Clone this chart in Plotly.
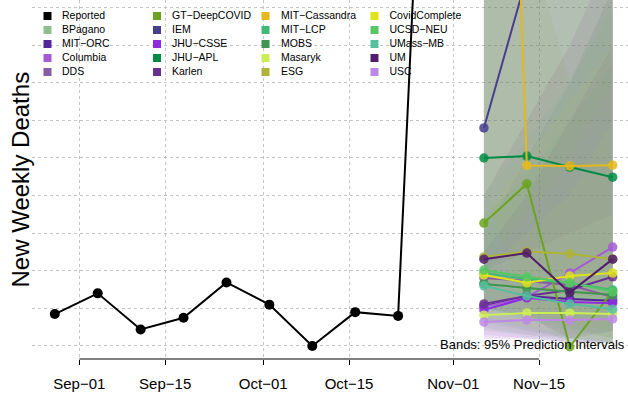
import plotly.graph_objects as go

# ---------------- data ----------------
reported_dates = ["2020-08-28", "2020-09-04", "2020-09-11", "2020-09-18", "2020-09-25",
                  "2020-10-02", "2020-10-09", "2020-10-16", "2020-10-23", "2020-10-30"]
reported_values = [28.5, 34.0, 24.4, 27.5, 36.9, 31.0, 20.0, 29.0, 28.0, 273.0]

forecast_dates = ["2020-11-06", "2020-11-13", "2020-11-20", "2020-11-27"]

models = ["BPagano", "MIT-ORC", "Columbia", "DDS",
          "GT-DeepCOVID", "IEM", "JHU-CSSE", "JHU-APL", "Karlen",
          "MIT-Cassandra", "MIT-LCP", "MOBS", "Masaryk", "ESG",
          "CovidComplete", "UCSD-NEU", "UMass-MB", "UM", "USC"]

model_colors = ["#8FBF8F", "#53259B", "#A45AD8", "#8A5BA5",
                "#6BA320", "#473E8E", "#8D2BE0", "#008C45", "#6A2F93",
                "#E5B81B", "#3DBB75", "#3F9450", "#CBEE55", "#AEB33A",
                "#DEE31C", "#57C763", "#55C09E", "#521D6A", "#BE88E5"]

point_forecast = {
    "BPagano":       [36.8, 34.9, 33.3, 32.2],
    "MIT-ORC":       [30.6, 33.3, 32.5, 32.0],
    "Columbia":      [30.4, 33.0, 39.4, 46.3],
    "DDS":           [38.1, 37.3, 36.2, 33.0],
    "GT-DeepCOVID":  [52.7, 63.1, 19.8, 34.6],
    "IEM":           [78.0, 118.3, 150.0, 180.0],
    "JHU-CSSE":      [29.6, 32.8, 31.7, 31.4],
    "JHU-APL":       [70.0, 70.5, 67.6, 64.9],
    "Karlen":        [31.2, 33.3, 34.9, 38.4],
    "MIT-Cassandra": [385.0, 68.0, 67.9, 68.1],
    "MIT-LCP":       [39.4, 37.8, 36.8, 34.9],
    "MOBS":          [36.5, 35.4, 34.4, 33.6],
    "Masaryk":       [28.2, 28.8, 28.8, 28.5],
    "ESG":           [43.7, 45.1, 44.5, 43.1],
    "CovidComplete": [38.9, 36.8, 38.6, 39.4],
    "UCSD-NEU":      [40.2, 38.4, 36.8, 34.4],
    "UMass-MB":      [36.0, 33.3, 31.2, 29.8],
    "UM":            [43.1, 44.7, 34.2, 43.1],
    "USC":           [26.4, 26.9, 26.9, 27.2],
}

lower_95 = {
    "BPagano":       [27.0, 24.0, 22.0, 21.0],
    "MIT-ORC":       [24.0, 23.0, 22.0, 21.0],
    "Columbia":      [22.0, 22.0, 23.0, 24.0],
    "DDS":           [25.0, 23.0, 21.0, 20.8],
    "GT-DeepCOVID":  [30.0, 30.0, 19.0, 20.5],
    "IEM":           [40.0, 45.0, 50.0, 55.0],
    "JHU-CSSE":      [22.0, 22.0, 21.0, 21.0],
    "JHU-APL":       [30.0, 28.0, 25.0, 22.0],
    "Karlen":        [23.0, 22.0, 21.0, 21.0],
    "MIT-Cassandra": [60.0, 30.0, 25.0, 22.0],
    "MIT-LCP":       [30.0, 27.0, 24.0, 22.0],
    "MOBS":          [26.0, 24.0, 22.0, 21.0],
    "Masaryk":       [24.0, 23.0, 22.0, 21.0],
    "ESG":           [30.0, 28.0, 26.0, 24.0],
    "CovidComplete": [28.0, 25.0, 23.0, 21.0],
    "UCSD-NEU":      [27.0, 25.0, 22.0, 20.8],
    "UMass-MB":      [25.0, 22.0, 21.0, 20.8],
    "UM":            [30.0, 28.0, 22.0, 24.0],
    "USC":           [20.8, 21.0, 21.0, 21.0],
}

upper_95 = {
    "BPagano":       [115.0, 125.0, 135.0, 145.0],
    "MIT-ORC":       [50.0, 70.0, 90.0, 115.0],
    "Columbia":      [120.0, 140.0, 160.0, 180.0],
    "DDS":           [115.0, 130.0, 145.0, 160.0],
    "GT-DeepCOVID":  [120.0, 130.0, 90.0, 115.0],
    "IEM":           [140.0, 300.0, 500.0, 700.0],
    "JHU-CSSE":      [45.0, 60.0, 80.0, 100.0],
    "JHU-APL":       [120.0, 130.0, 140.0, 150.0],
    "Karlen":        [115.0, 125.0, 135.0, 150.0],
    "MIT-Cassandra": [600.0, 150.0, 160.0, 170.0],
    "MIT-LCP":       [55.0, 65.0, 80.0, 95.0],
    "MOBS":          [120.0, 130.0, 140.0, 150.0],
    "Masaryk":       [40.0, 50.0, 60.0, 80.0],
    "ESG":           [115.0, 120.0, 130.0, 140.0],
    "CovidComplete": [55.0, 70.0, 85.0, 100.0],
    "UCSD-NEU":      [60.0, 75.0, 90.0, 110.0],
    "UMass-MB":      [115.0, 120.0, 130.0, 140.0],
    "UM":            [60.0, 80.0, 100.0, 125.0],
    "USC":           [40.0, 55.0, 70.0, 90.0],
}

tick_dates = ["2020-09-01", "2020-09-15", "2020-10-01", "2020-10-15", "2020-11-01", "2020-11-15"]
tick_labels = ["Sep\u221201", "Sep\u221215", "Oct\u221201", "Oct\u221215", "Nov\u221201", "Nov\u221215"]

legend_names = ["Reported"] + models
legend_colors = ["#000000"] + model_colors

# ---------------- layout geometry ----------------
W, H = 628, 396
ML, MR, MT, MB = 32, 0, 0, 37
PW, PH = W - ML - MR, H - MT - MB
FONT = "Liberation Sans, Arial, Helvetica, sans-serif"


def fx(px):
    return (px - ML) / PW


def fy(py):
    return (MT + PH - py) / PH


def rgba(hexcol, a):
    h = hexcol.lstrip("#")
    r, g, b = int(h[0:2], 16), int(h[2:4], 16), int(h[4:6], 16)
    return f"rgba({r},{g},{b},{a})"


fig = go.Figure()

# ---------------- legend (base axes, drawn underneath data) ----------------
col_sq = [47.5, 157.0, 265.5, 374.5]
col_tx = [62.0, 172.0, 281.0, 389.5]
row_y = [16, 30, 44, 58, 72]
lx_sq, ly, lx_tx, ltxt, lcol = [], [], [], [], []
for i, (name, col) in enumerate(zip(legend_names, legend_colors)):
    c, r = divmod(i, 5)
    lx_sq.append(fx(col_sq[c]))
    lx_tx.append(fx(col_tx[c]))
    ly.append(fy(row_y[r]))
    ltxt.append(name.replace("-", "\u2212"))
    lcol.append(col)

fig.add_trace(go.Scatter(x=lx_sq, y=ly, mode="markers", xaxis="x", yaxis="y",
                         marker=dict(symbol="square", size=8, color=lcol, line=dict(width=0)),
                         hoverinfo="skip", showlegend=False))
fig.add_trace(go.Scatter(x=lx_tx, y=ly, mode="text", text=ltxt, textposition="middle right",
                         xaxis="x", yaxis="y",
                         textfont=dict(family=FONT, size=10.5, color="#000000"),
                         hoverinfo="skip", showlegend=False))

# ---------------- prediction bands ----------------
for m, col in zip(models, model_colors):
    fig.add_trace(go.Scatter(
        x=forecast_dates + forecast_dates[::-1],
        y=upper_95[m] + lower_95[m][::-1],
        xaxis="x2", yaxis="y2",
        mode="lines", line=dict(width=0), fill="toself",
        fillcolor=rgba(col, 0.07), hoverinfo="skip", showlegend=False))

# ---------------- forecast lines ----------------
for m, col in zip(models, model_colors):
    fig.add_trace(go.Scatter(
        x=forecast_dates, y=point_forecast[m], xaxis="x2", yaxis="y2",
        mode="lines+markers", line=dict(color=col, width=2),
        marker=dict(color=col, size=9.5, opacity=0.85),
        name=m, showlegend=False))

# ---------------- reported ----------------
fig.add_trace(go.Scatter(
    x=reported_dates, y=reported_values, xaxis="x2", yaxis="y2",
    mode="lines+markers", line=dict(color="#000000", width=2),
    marker=dict(color="#000000", size=10),
    name="Reported", showlegend=False))

grid_col = "#C4C4C4"
fig.update_layout(
    width=W, height=H,
    margin=dict(l=ML, r=MR, t=MT, b=MB, pad=0),
    paper_bgcolor="white", plot_bgcolor="white",
    font=dict(family=FONT, color="#000000"),
    showlegend=False,
    hovermode=False,
    xaxis=dict(range=[0, 1], visible=False, fixedrange=True),
    yaxis=dict(range=[0, 1], visible=False, fixedrange=True),
    xaxis2=dict(overlaying="x", anchor="y2", type="date",
                range=["2020-08-24 06:43", "2020-11-29 12:00"],
                tickvals=tick_dates, ticktext=tick_labels,
                ticks="outside", ticklen=5, tickwidth=1, tickcolor="#000000",
                tickfont=dict(family=FONT, size=15, color="#000000"),
                ticklabelstandoff=6,
                showgrid=True, gridcolor=grid_col, griddash="dot", gridwidth=1,
                showline=False, zeroline=False),
    yaxis2=dict(overlaying="y", anchor="x2", range=[16.54, 112.02],
                tick0=0, dtick=10, showticklabels=False, ticks="",
                showgrid=True, gridcolor=grid_col, griddash="dot", gridwidth=1,
                showline=False, zeroline=False),
)

# axis line spanning first to last tick (R style)
fig.add_shape(type="line", xref="x2", yref="paper",
              x0=tick_dates[0], x1=tick_dates[-1], y0=0, y1=0,
              line=dict(color="#000000", width=1))

fig.add_annotation(text="New Weekly Deaths", xref="paper", yref="paper",
                   x=fx(20), y=0.5, textangle=-90, showarrow=False,
                   xanchor="center", yanchor="middle",
                   font=dict(family=FONT, size=24, color="#000000"))

fig.add_annotation(text="Bands: 95% Prediction Intervals", xref="paper", yref="paper",
                   x=fx(627), y=fy(344), showarrow=False,
                   xanchor="right", yanchor="middle",
                   font=dict(family=FONT, size=13, color="#000000"))

fig.write_html("out.html",
               config={"displayModeBar": False, "staticPlot": True},
               post_script="document.body.style.margin='0';document.body.style.overflow='hidden';")
